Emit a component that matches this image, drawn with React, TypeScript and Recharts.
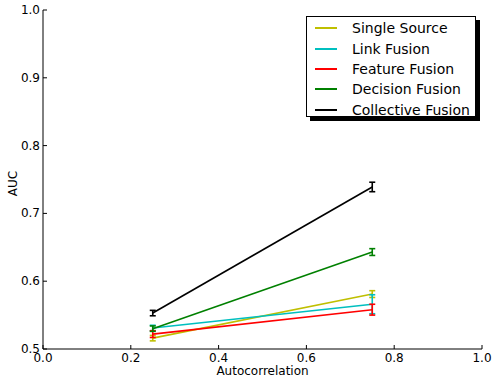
import React from "react";
import { LineChart, Line, XAxis, YAxis, ErrorBar } from "recharts";

const autocorrelation = [0.25, 0.75];
const seriesNames = ["Single Source", "Link Fusion", "Feature Fusion", "Decision Fusion", "Collective Fusion"];
const seriesColors = ["#bfbf00", "#00bfbf", "#ff0000", "#008000", "#000000"];
const singleSource = [0.516, 0.581];
const singleSourceErr = [0.004, 0.005];
const linkFusion = [0.531, 0.566];
const linkFusionErr = [0.004, 0.014];
const featureFusion = [0.522, 0.558];
const featureFusionErr = [0.005, 0.008];
const decisionFusion = [0.530, 0.643];
const decisionFusionErr = [0.004, 0.005];
const collectiveFusion = [0.553, 0.739];
const collectiveFusionErr = [0.004, 0.007];
const xTicks = [0, 0.2, 0.4, 0.6, 0.8, 1.0];
const yTicks = [0.5, 0.6, 0.7, 0.8, 0.9, 1.0];

const values = [singleSource, linkFusion, featureFusion, decisionFusion, collectiveFusion];
const errors = [singleSourceErr, linkFusionErr, featureFusionErr, decisionFusionErr, collectiveFusionErr];

const FONT = "'DejaVu Sans', sans-serif";

const BottomTick = (props: any) => {
  const { x, y, payload } = props;
  return (
    <g>
      <line x1={x} x2={x} y1={y} y2={y - 4} stroke="#000" strokeWidth={1} />
      <text x={x} y={y + 13} textAnchor="middle" fontSize={12} fontFamily={FONT} fill="#000">
        {Number(payload.value).toFixed(1)}
      </text>
    </g>
  );
};
const TopTick = (props: any) => {
  const { x, y } = props;
  return <line x1={x} x2={x} y1={y} y2={y + 4} stroke="#000" strokeWidth={1} />;
};
const LeftTick = (props: any) => {
  const { x, y, payload } = props;
  return (
    <g>
      <line x1={x} x2={x + 4} y1={y} y2={y} stroke="#000" strokeWidth={1} />
      <text x={x - 3} y={y + 4} textAnchor="end" fontSize={12} fontFamily={FONT} fill="#000">
        {Number(payload.value).toFixed(1)}
      </text>
    </g>
  );
};
const RightTick = (props: any) => {
  const { x, y } = props;
  return <line x1={x} x2={x - 4} y1={y} y2={y} stroke="#000" strokeWidth={1} />;
};

const LegendBox = () => (
  <div
    style={{
      position: "absolute",
      left: 306,
      top: 16,
      border: "1px solid #000",
      background: "#fff",
      boxShadow: "4px 4px 0 #000",
      width: 170,
      height: 101,
      boxSizing: "border-box",
      padding: "1px 0 0 8px",
      fontFamily: FONT,
      fontSize: 14,
    }}
  >
    {seriesNames.map((n, i) => (
      <div key={n} style={{ display: "flex", alignItems: "center", height: 20.4 }}>
        <div style={{ width: 22, height: 2, background: seriesColors[i], marginRight: 15 }} />
        <span style={{ color: "#000", whiteSpace: "nowrap" }}>{n}</span>
      </div>
    ))}
  </div>
);

export default function App() {
  return (
    <div style={{ position: "absolute", left: 0, top: 0, width: 493, height: 381 }}>
      <LineChart width={493} height={381} margin={{ top: 10, right: 11, bottom: 0, left: 0 }}>
        <XAxis
          type="number"
          dataKey="x"
          domain={[0, 1]}
          ticks={xTicks}
          height={32}
          tickSize={0}
          tickMargin={0}
          tickLine={false}
          tick={<BottomTick />}
          axisLine={{ stroke: "#000", strokeWidth: 1 }}
          allowDuplicatedCategory={false}
          label={{ value: "Autocorrelation", position: "insideBottom", offset: 6, fontSize: 12, fill: "#000", fontFamily: FONT }}
        />
        <XAxis
          xAxisId="top"
          orientation="top"
          type="number"
          dataKey="x"
          domain={[0, 1]}
          ticks={xTicks}
          height={0}
          tickSize={0}
          tickMargin={0}
          tickLine={false}
          tick={<TopTick />}
          axisLine={{ stroke: "#000", strokeWidth: 1 }}
        />
        <YAxis
          type="number"
          domain={[0.5, 1]}
          ticks={yTicks}
          width={43}
          tickSize={0}
          tickMargin={0}
          tickLine={false}
          tick={<LeftTick />}
          axisLine={{ stroke: "#000", strokeWidth: 1 }}
          label={{
            content: (p: any) => {
              const vb = p.viewBox || {};
              const cy = (vb.y || 10) + (vb.height || 339) / 2 + 4;
              return (
                <text x={17} y={cy} transform={`rotate(-90, 17, ${cy})`} textAnchor="middle" fontSize={12} fontFamily={FONT} fill="#000">
                  AUC
                </text>
              );
            },
          }}
        />
        <YAxis
          yAxisId="right"
          orientation="right"
          type="number"
          domain={[0.5, 1]}
          ticks={yTicks}
          width={0}
          tickSize={0}
          tickMargin={0}
          tickLine={false}
          tick={<RightTick />}
          axisLine={{ stroke: "#000", strokeWidth: 1 }}
        />
        {seriesNames.map((name, i) => (
          <Line
            key={name}
            name={name}
            data={autocorrelation.map((x, j) => ({ x, y: values[i][j], err: errors[i][j] }))}
            dataKey="y"
            stroke={seriesColors[i]}
            strokeWidth={1.6}
            dot={false}
            activeDot={false}
            isAnimationActive={false}
          >
            <ErrorBar dataKey="err" width={3} stroke={seriesColors[i]} strokeWidth={1.6} direction="y" isAnimationActive={false} />
          </Line>
        ))}
      </LineChart>
      <LegendBox />
    </div>
  );
}
